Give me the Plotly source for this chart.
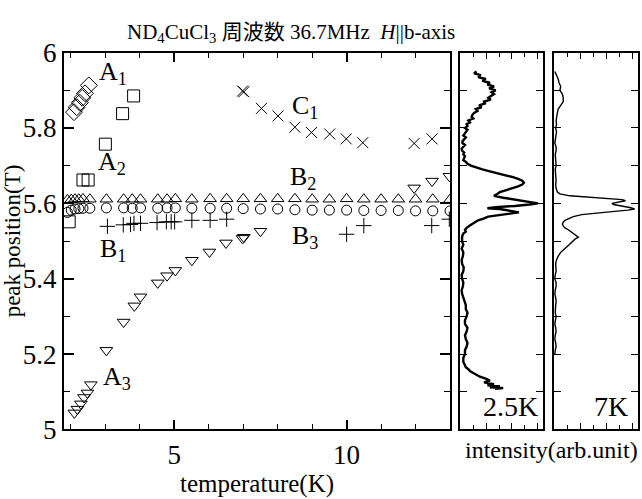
import plotly.graph_objects as go

W, H = 642, 499
FONT = "Liberation Serif"

# ---- data (temperature K, peak position T) ----
a1_T = [2.09, 2.17, 2.26, 2.33, 2.41, 2.52]
a1_v = [5.842, 5.855, 5.867, 5.880, 5.892, 5.913]

a2_T = [1.95, 2.35, 2.50, 3.00, 3.50, 3.82]
a2_v = [5.551, 5.662, 5.662, 5.757, 5.838, 5.885]

b2_T = [1.90, 2.01, 2.12, 2.23, 2.35, 2.55, 3.03, 3.53, 3.78, 4.02, 4.52, 4.79, 5.03,
        5.51, 6.04, 6.52, 7.0, 7.5, 8.0, 8.5, 9.0, 9.5, 10.0, 10.5, 11.0, 11.5, 12.0, 12.5, 13.0]
b2_v = [5.609, 5.610, 5.611, 5.611, 5.612, 5.611, 5.611, 5.611, 5.611, 5.611, 5.611, 5.611, 5.612,
        5.611, 5.612, 5.612, 5.612, 5.612, 5.612, 5.612, 5.611, 5.611, 5.612, 5.611, 5.611, 5.611, 5.611, 5.611, 5.610]

bc_T = b2_T
bc_v = [5.576, 5.582, 5.585, 5.586, 5.587, 5.587, 5.588, 5.588, 5.587, 5.588, 5.587, 5.588, 5.588,
        5.587, 5.587, 5.587, 5.586, 5.585, 5.585, 5.583, 5.582, 5.582, 5.582, 5.581, 5.581, 5.581, 5.580, 5.580, 5.580]

b1_T = [3.06, 3.52, 3.73, 3.83, 4.02, 4.50, 4.77, 4.91, 5.01, 5.51, 6.04, 6.52, 10.0, 10.5, 12.47, 12.98]
b1_v = [5.539, 5.543, 5.544, 5.547, 5.547, 5.549, 5.551, 5.551, 5.551, 5.555, 5.555, 5.558, 5.518, 5.541, 5.541, 5.558]

c1_T = [6.98, 7.02, 7.53, 8.01, 8.50, 8.98, 9.51, 9.99, 10.47, 11.96, 12.48]
c1_v = [5.898, 5.896, 5.852, 5.832, 5.802, 5.788, 5.784, 5.771, 5.761, 5.759, 5.771]

a3_T = [2.10, 2.19, 2.29, 2.38, 2.48, 2.58, 3.03, 3.53, 3.84, 4.02, 4.52, 4.79, 5.03,
        5.51, 6.02, 6.50, 6.98, 7.02, 7.50, 11.96, 12.48, 12.98]
a3_v = [5.044, 5.054, 5.068, 5.085, 5.097, 5.119, 5.210, 5.285, 5.328, 5.352, 5.389, 5.408, 5.422,
        5.449, 5.471, 5.495, 5.507, 5.510, 5.526, 5.641, 5.659, 5.672]

# ---- spectra (peak position T, intensity arb. unit) ----
s25_v = [5.95, 5.945, 5.94, 5.935, 5.93, 5.925, 5.92, 5.915, 5.91, 5.905, 5.90, 5.895, 5.89, 5.885, 5.88,
         5.875, 5.87, 5.865, 5.86, 5.855, 5.85, 5.845, 5.84, 5.835, 5.83, 5.825, 5.82, 5.815, 5.81, 5.805,
         5.80, 5.795, 5.79, 5.785, 5.78, 5.775, 5.77, 5.765, 5.76, 5.755, 5.75, 5.745, 5.74, 5.735, 5.73,
         5.725, 5.72, 5.715, 5.71, 5.705, 5.70, 5.695, 5.69, 5.685, 5.68, 5.675, 5.67, 5.665, 5.66, 5.655,
         5.65, 5.645, 5.64, 5.635, 5.63, 5.625, 5.62, 5.615, 5.61, 5.605, 5.60, 5.597, 5.593, 5.59, 5.587,
         5.585, 5.58, 5.576, 5.572, 5.568, 5.565, 5.56, 5.555, 5.55, 5.545, 5.54, 5.535, 5.53, 5.525, 5.52,
         5.515, 5.51, 5.50, 5.49, 5.48, 5.47, 5.46, 5.45, 5.44, 5.43, 5.42, 5.41, 5.40, 5.39, 5.38, 5.37,
         5.36, 5.35, 5.34, 5.33, 5.32, 5.31, 5.30, 5.29, 5.28, 5.27, 5.26, 5.25, 5.24, 5.23, 5.22, 5.21,
         5.20, 5.19, 5.18, 5.17, 5.165, 5.16, 5.155, 5.15, 5.145, 5.14, 5.135, 5.13, 5.125, 5.12, 5.117,
         5.115, 5.112, 5.11, 5.108]
s25_i = [20, 17, 25, 22, 31, 27, 36, 33, 41, 35, 43, 38, 41, 37, 34,
         37, 29, 30, 23, 26, 19, 21, 17, 15, 14, 16, 10, 12, 8, 9,
         6, 9, 7, 5, 4, 7, 5, 3, 3, 6, 4, 2, 2.5, 5, 4,
         6, 5, 4, 7, 9, 13, 19, 27, 36, 46, 54, 63, 70, 75, 77,
         75, 70, 63, 54, 48, 45, 41, 52, 66, 82, 94, 84, 66, 43, 33,
         48, 63, 71, 58, 42, 34, 29, 22, 18, 14, 11, 8, 6, 7, 4,
         3, 2.5, 2.5, 4, 2, 4, 3.5, 2, 2.5, 4.5, 4, 2, 2.5, 4, 3.5, 2,
         2.5, 4, 5, 7, 7, 9, 8, 6, 6, 9, 8, 6, 7, 9, 8, 6,
         6, 4, 4, 6, 7, 10, 12, 16, 20, 24, 31, 36, 29, 41, 33,
         48, 36, 52, 42]

s7_v = [5.95, 5.94, 5.93, 5.92, 5.91, 5.90, 5.89, 5.88, 5.87, 5.86, 5.85, 5.84, 5.83, 5.82, 5.81,
        5.80, 5.79, 5.78, 5.77, 5.76, 5.75, 5.74, 5.73, 5.72, 5.71, 5.70, 5.69, 5.68, 5.67, 5.66,
        5.65, 5.64, 5.63, 5.625, 5.62, 5.617, 5.615, 5.612, 5.61, 5.607, 5.603, 5.60, 5.597, 5.593,
        5.589, 5.585, 5.582, 5.578, 5.574, 5.57, 5.565, 5.56, 5.555, 5.55, 5.545, 5.54, 5.535, 5.53,
        5.525, 5.52, 5.515, 5.51, 5.505, 5.50, 5.49, 5.48, 5.47, 5.46, 5.45, 5.44, 5.43, 5.42, 5.41,
        5.40, 5.39, 5.38, 5.37, 5.36, 5.35, 5.34, 5.33, 5.32, 5.31, 5.30, 5.29, 5.28, 5.27, 5.26,
        5.25, 5.24, 5.23, 5.22, 5.21, 5.20]
s7_i = [1, 3, 5, 6, 8, 7, 10, 11, 11, 8, 5, 4, 3, 2.5, 3,
        2, 3, 2.5, 2, 1, 2.5, 2.5, 1.5, 2, 2.5, 2.5, 1.5, 2, 2.5, 2.5,
        2, 2.5, 4, 7, 19, 37, 55, 69, 81, 85, 76, 69, 71, 81,
        90, 96, 88, 69, 49, 33, 23, 17, 13, 11, 10, 11, 13, 17,
        20, 24, 27, 29, 25, 23, 18, 13, 8, 5, 3, 2, 2.5, 2.5, 1.5,
        1, 2.5, 2.5, 1.5, 1, 2, 2.5, 2, 2, 1.5, 2.5, 2, 1, 2, 2.5,
        1.5, 1, 2, 2.5, 1.5, 1]

x_ticks = [5, 10]
x_ticklabels = ["5", "10"]

# ---- figure ----
def px2x(p):
    return p / W

def py2y(p):
    return 1 - p / H

dom_y = [py2y(441), py2y(40)]
fig = go.Figure()

def scat(x, y, sym, size):
    fig.add_trace(go.Scatter(x=x, y=y, mode="markers", xaxis="x", yaxis="y",
                             marker=dict(symbol=sym, size=size, color="black",
                                         line=dict(color="black", width=1))))

scat(bc_T, bc_v, "circle-open", 10)
scat(b2_T, b2_v, "triangle-up-open", 11)
scat(a1_T, a1_v, "diamond-open", 13)
scat(a2_T, a2_v, "square-open", 12)
scat(b1_T, b1_v, "cross-thin-open", 11)
scat(c1_T, c1_v, "x-thin-open", 11)
scat(a3_T, a3_v, "triangle-down-open", 11)

fig.add_trace(go.Scatter(x=s25_i, y=s25_v, mode="lines", xaxis="x2", yaxis="y2",
                         line=dict(color="black", width=2.4)))
fig.add_trace(go.Scatter(x=s7_i, y=s7_v, mode="lines", xaxis="x3", yaxis="y3",
                         line=dict(color="black", width=1.4)))

axcommon = dict(showline=True, linecolor="black", linewidth=2, mirror="allticks",
                ticks="inside", showgrid=False, zeroline=False, tickcolor="black",
                tickfont=dict(family=FONT, size=27, color="black"))

fig.update_layout(
    width=W, height=H, margin=dict(l=0, r=0, t=0, b=0),
    paper_bgcolor="white", plot_bgcolor="white", showlegend=False,
    font=dict(family=FONT, color="black"),
    xaxis=dict(axcommon, domain=[px2x(64), px2x(450)], range=[1.8, 13], anchor="y",
               tickvals=x_ticks, ticktext=x_ticklabels, ticklen=9, tickwidth=1.5,
               minor=dict(dtick=1, tick0=0, ticks="inside", ticklen=5, tickcolor="black", tickwidth=1),
               title=dict(text="temperature(K)", font=dict(family=FONT, size=25, color="black"), standoff=6)),
    yaxis=dict(axcommon, domain=dom_y, range=[5, 6], anchor="x", dtick=0.2, tick0=5,
               ticklen=10, tickwidth=1.5,
               minor=dict(dtick=0.1, tick0=5, ticks="inside", ticklen=6, tickcolor="black", tickwidth=1),
               title=dict(text="peak position(T)", font=dict(family=FONT, size=23, color="black"), standoff=2)),
    xaxis2=dict(axcommon, domain=[px2x(460), px2x(543)], range=[0, 100], anchor="y2",
                showticklabels=False, dtick=31, tick0=0.5, ticklen=6, tickwidth=1,
                minor=dict(dtick=15.5, tick0=0.5, ticks="inside", ticklen=4, tickcolor="black", tickwidth=1)),
    yaxis2=dict(axcommon, domain=dom_y, range=[5, 6], anchor="x2", showticklabels=False,
                dtick=0.1, tick0=5, ticklen=7, tickwidth=1),
    xaxis3=dict(axcommon, domain=[px2x(554), px2x(638)], range=[0, 100], anchor="y3",
                showticklabels=False, dtick=31, tick0=0.5, ticklen=6, tickwidth=1,
                minor=dict(dtick=15.5, tick0=0.5, ticks="inside", ticklen=4, tickcolor="black", tickwidth=1)),
    yaxis3=dict(axcommon, domain=dom_y, range=[5, 6], anchor="x3", showticklabels=False,
                dtick=0.1, tick0=5, ticklen=7, tickwidth=1),
)

def ann(text, x, y, size=26, xref="paper", yref="paper", xanchor="center", yanchor="middle", family=FONT):
    fig.add_annotation(text=text, x=x, y=y, xref=xref, yref=yref, showarrow=False,
                       xanchor=xanchor, yanchor=yanchor,
                       font=dict(family=family, size=size, color="black"))

# curve labels (data coordinates of the main panel)
ann("A<sub>1</sub>", 3.21, 5.945, xref="x", yref="y")
ann("A<sub>2</sub>", 3.18, 5.708, xref="x", yref="y")
ann("C<sub>1</sub>", 8.79, 5.855, xref="x", yref="y")
ann("B<sub>2</sub>", 8.73, 5.668, xref="x", yref="y")
ann("B<sub>1</sub>", 3.21, 5.476, xref="x", yref="y")
ann("B<sub>3</sub>", 8.79, 5.511, xref="x", yref="y")
ann("A<sub>3</sub>", 3.35, 5.137, xref="x", yref="y")

ann("2.5K", px2x(510), py2y(417), size=28)
ann("7K", px2x(611), py2y(417), size=28)
ann("intensity(arb.unit)", px2x(551), py2y(463), size=24)
ann("ND<sub>4</sub>CuCl<sub>3</sub> <span style='font-family:Noto Sans CJK JP'>周波数</span> 36.7MHz  <i>H</i>||b-axis",
    px2x(291), py2y(17), size=21)

fig.write_html("out.html")
